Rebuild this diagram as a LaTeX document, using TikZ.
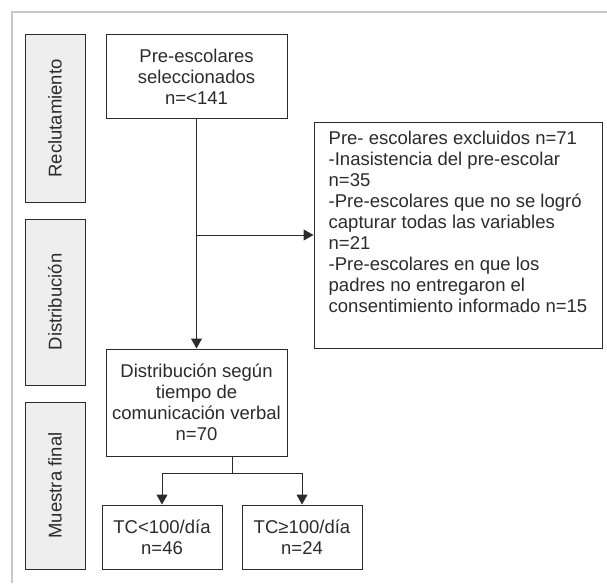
\documentclass[tikz,border=0pt]{standalone}
\usepackage{fontspec}
\setmainfont{Liberation Sans}
\usetikzlibrary{arrows.meta}
\definecolor{linea}{HTML}{2B2B2B}
\definecolor{marco}{HTML}{C8C8C8}
\definecolor{fondo}{HTML}{EEEEEE}
\begin{document}
\begin{tikzpicture}[x=1pt,y=-1pt,
    caja/.style={draw=linea,line width=1pt,align=center,inner sep=2pt,
      font=\fontsize{18.5}{21}\selectfont,text=linea},
    etapa/.style={draw=linea,line width=1pt,fill=fondo,minimum height=60pt,
      font=\fontsize{18.5}{21}\selectfont,text=linea,rotate=90},
    flecha/.style={draw=linea,line width=1pt,-{Triangle[width=11pt,length=10pt]}}]
  \useasboundingbox (0,0) rectangle (607,583);
  % marco gris
  \draw[marco,line width=1.5pt] (607,12) -- (12,12) -- (12,583);
  % etapas
  \node[etapa,minimum width=167pt] (rec) at (55,118.5) {Reclutamiento};
  \node[etapa,minimum width=166pt] (dis) at (55,302) {Distribución};
  \node[etapa,minimum width=167pt] (mue) at (55,485.5) {Muestra final};
  % cajas
  \node[caja,minimum width=181pt,minimum height=84pt] (sel) at (196.5,77)
    {Pre-escolares\\seleccionados\\n=<141};
  \node[caja,minimum width=288pt,minimum height=226pt,align=left,
        text depth=26pt] (exc) at (458,235)
    {Pre- escolares excluidos n=71\\-Inasistencia del pre-escolar\\n=35\\
     -Pre-escolares que no se logró\\capturar todas las variables\\n=21\\
     -Pre-escolares en que los\\padres no entregaron el\\
     consentimiento informado n=15};
  \node[caja,minimum width=181pt,minimum height=107pt] (tcv) at (196.5,402.5)
    {Distribución según\\tiempo de\\comunicación verbal\\n=70};
  \node[caja,minimum width=120pt,minimum height=64pt] (bajo) at (162,537)
    {TC<100/día\\n=46};
  \node[caja,minimum width=120pt,minimum height=64pt] (alto) at (302,537)
    {TC≥100/día\\n=24};
  % conectores
  \coordinate (rama) at (sel.south |- exc.west);
  \coordinate (tallo) at (232,473);
  \draw[flecha] (sel.south) -- (tcv.north);
  \draw[flecha] (rama) -- (exc.west);
  \draw[draw=linea,line width=1pt] (tcv.south -| tallo) -- (tallo);
  \draw[flecha] (tallo) -| (bajo.north);
  \draw[flecha] (tallo) -| (alto.north);
\end{tikzpicture}
\end{document}
